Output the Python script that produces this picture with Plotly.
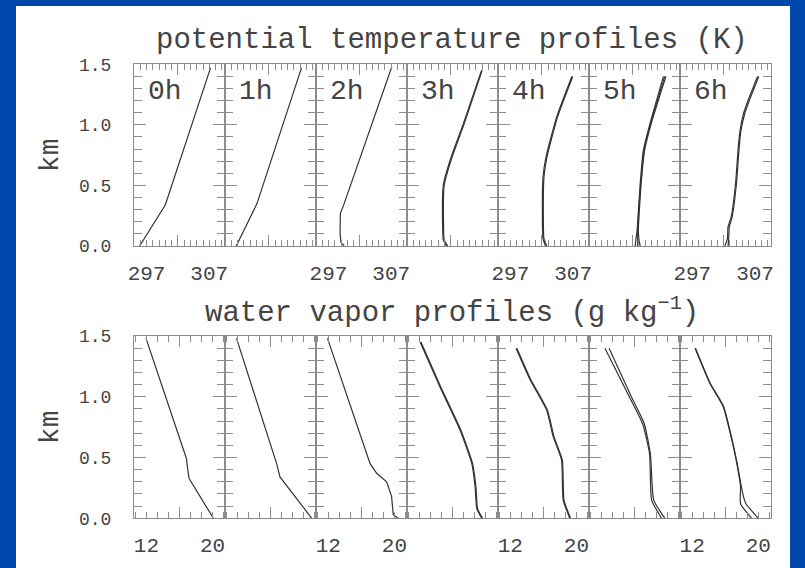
import plotly.graph_objects as go

W, H = 805, 568
BLUE = "#0047ab"
INK = "#333333"
TEXT = "#444444"
FRAME = "#8c8c8c"
FONT = "Liberation Mono"

hours = ["0h", "1h", "2h", "3h", "4h", "5h", "6h"]

# ---- potential temperature profiles (K) vs height (km) ----
theta_z_0h = [0.00, 0.34, 1.47]
theta_0h = [295.9, 300.0, 307.2]

theta_z_1h = [0.00, 0.35, 1.47]
theta_1h = [296.8, 300.1, 307.2]

theta_z_2h = [0.00, 0.03, 0.10, 0.27, 0.35, 1.48]
theta_2h = [299.5, 299.0, 298.85, 298.9, 299.5, 307.1]

theta_z_3h = [0.00, 0.05, 0.15, 0.50, 0.71, 1.01, 1.45]
theta_3h_a = [301.3, 300.8, 300.7, 300.8, 301.9, 304.0, 306.9]
theta_3h_b = [301.5, 300.95, 300.85, 300.95, 302.05, 304.15, 307.0]

theta_z_4h = [0.00, 0.06, 0.30, 0.57, 0.74, 1.07, 1.40]
theta_4h_a = [302.6, 302.2, 302.1, 302.2, 302.7, 304.4, 306.8]
theta_4h_b = [302.8, 302.35, 302.25, 302.35, 302.85, 304.55, 306.95]

theta_z_5h = [0.00, 0.05, 0.13, 0.52, 0.79, 1.01, 1.40]
theta_5h_a = [302.4, 302.5, 302.7, 303.2, 303.7, 304.75, 306.9]
theta_5h_b = [303.2, 303.0, 302.9, 303.35, 303.9, 304.95, 307.3]
theta_5h_c = [302.8, 302.8, 302.8, 303.3, 303.8, 304.85, 307.1]

theta_z_6h = [0.00, 0.06, 0.16, 0.24, 0.52, 0.80, 0.95, 1.10, 1.23, 1.40]
theta_6h_a = [302.2, 302.6, 302.7, 303.2, 303.9, 304.3, 304.6, 305.2, 306.1, 307.4]
theta_6h_b = [302.7, 302.8, 302.9, 303.35, 304.05, 304.45, 304.75, 305.4, 306.3, 307.6]

# ---- water vapor profiles (g/kg) vs height (km) ----
q_z_0h = [0.00, 0.33, 0.40, 0.49, 1.48]
q_0h = [20.1, 17.15, 17.0, 16.85, 11.95]

q_z_1h = [0.00, 0.34, 0.45, 1.48]
q_1h = [21.0, 17.15, 16.75, 11.9]

q_z_2h = [0.00, 0.03, 0.18, 0.30, 0.37, 0.45, 1.48]
q_2h = [20.45, 19.85, 19.65, 19.05, 17.85, 17.05, 11.9]

q_z_3h = [0.00, 0.08, 0.26, 0.45, 0.73, 1.08, 1.45]
q_3h_a = [19.55, 18.95, 18.75, 18.35, 16.9, 14.5, 12.1]
q_3h_b = [19.65, 19.05, 18.85, 18.45, 17.0, 14.6, 12.2]

q_z_4h = [0.00, 0.15, 0.48, 0.67, 0.89, 1.14, 1.40]
q_4h_a = [19.2, 18.4, 18.2, 17.2, 16.4, 14.4, 12.7]
q_4h_b = [19.3, 18.5, 18.3, 17.3, 16.5, 14.5, 12.8]

q_z_5h = [0.00, 0.15, 0.53, 0.78, 1.00, 1.40]
q_5h_a = [19.3, 18.1, 17.85, 17.0, 15.4, 12.45]
q_5h_b = [19.7, 18.35, 17.95, 17.2, 15.65, 12.95]

q_z_6h_a = [0.00, 0.12, 0.26, 0.45, 0.70, 0.92, 1.11, 1.40]
q_6h_a = [19.2, 17.85, 17.85, 17.4, 16.6, 15.75, 14.15, 12.35]
q_z_6h_b = [0.00, 0.12, 0.18, 0.26, 0.45, 0.70, 0.92, 1.11, 1.40]
q_6h_b = [20.0, 18.5, 18.2, 17.95, 17.45, 16.65, 15.8, 14.2, 12.4]

theta_panels = [
    [(theta_0h, theta_z_0h)],
    [(theta_1h, theta_z_1h)],
    [(theta_2h, theta_z_2h)],
    [(theta_3h_a, theta_z_3h), (theta_3h_b, theta_z_3h)],
    [(theta_4h_a, theta_z_4h), (theta_4h_b, theta_z_4h)],
    [(theta_5h_a, theta_z_5h), (theta_5h_b, theta_z_5h), (theta_5h_c, theta_z_5h)],
    [(theta_6h_a, theta_z_6h), (theta_6h_b, theta_z_6h)],
]
q_panels = [
    [(q_0h, q_z_0h)],
    [(q_1h, q_z_1h)],
    [(q_2h, q_z_2h)],
    [(q_3h_a, q_z_3h), (q_3h_b, q_z_3h)],
    [(q_4h_a, q_z_4h), (q_4h_b, q_z_4h)],
    [(q_5h_a, q_z_5h), (q_5h_b, q_z_5h)],
    [(q_6h_a, q_z_6h_a), (q_6h_b, q_z_6h_b)],
]

# axis settings per row
rows = [
    dict(panels=theta_panels, xrange=[295.0, 309.5], major0=302, majordt=10,
         minor0=297, minordt=1.0, labels=[297, 307], top=64.3, bottom=246.0),
    dict(panels=q_panels, xrange=[10.5, 21.5], major0=16, majordt=8,
         minor0=12, minordt=4.0 / 3.0, labels=[12, 20], top=336.0, bottom=518.3),
]

PANEL_LEFT = 134.0
PANEL_W = 90.96
NCOL = 7

fig = go.Figure()
layout = {}


def ref(letter, i):
    return letter if i == 1 else f"{letter}{i}"


def key(prefix, i):
    return prefix if i == 1 else f"{prefix}{i}"


for r, row in enumerate(rows):
    y0 = 1 - row["bottom"] / H
    y1 = 1 - row["top"] / H
    for c in range(NCOL):
        idx = r * NCOL + c + 1
        lab = idx + 2 * NCOL
        x0 = (PANEL_LEFT + c * PANEL_W) / W
        x1 = (PANEL_LEFT + (c + 1) * PANEL_W) / W
        xa, ya, xl = ref("x", idx), ref("y", idx), ref("x", lab)

        for vals, zs in row["panels"][c]:
            fig.add_trace(go.Scatter(
                x=vals, y=zs, xaxis=xa, yaxis=ya, mode="lines",
                line=dict(color=INK, width=1.2,
                          shape="spline" if c >= 3 else "linear", smoothing=0.5),
                hoverinfo="skip", showlegend=False))
        # empty trace so the overlaid label axis gets its own subplot
        fig.add_trace(go.Scatter(x=[], y=[], xaxis=xl, yaxis=ya, mode="lines",
                                 hoverinfo="skip", showlegend=False))

        layout[key("xaxis", idx)] = dict(
            domain=[x0, x1], anchor=ya, range=row["xrange"], automargin=False,
            tickmode="linear", tick0=row["major0"], dtick=row["majordt"],
            ticks="inside", ticklen=11, tickcolor=FRAME, tickwidth=1,
            showticklabels=False, showgrid=False, zeroline=False,
            showline=True, linecolor=FRAME, linewidth=1, mirror="ticks",
            minor=dict(tick0=row["minor0"], dtick=row["minordt"], ticks="inside",
                       ticklen=6, tickcolor=FRAME, tickwidth=1, showgrid=False),
        )
        # labelled ticks sit on an overlaid axis without tick marks
        layout[key("xaxis", lab)] = dict(
            overlaying=xa, anchor=ya, range=row["xrange"], side="bottom",
            automargin=False, tickmode="array", tickvals=row["labels"],
            ticktext=[str(v) for v in row["labels"]],
            showticklabels=(c % 2 == 0), ticks="", showline=False,
            showgrid=False, zeroline=False, ticklabelstandoff=12,
            tickfont=dict(family=FONT, size=21, color=TEXT),
        )
        layout[key("yaxis", idx)] = dict(
            domain=[y0, y1], anchor=xa, range=[0, 1.5], automargin=False,
            tickmode="linear", tick0=0, dtick=0.5, tickformat=".1f",
            ticks="inside", ticklen=12, tickcolor=FRAME, tickwidth=1,
            showticklabels=(c == 0), ticklabelstandoff=18,
            tickfont=dict(family=FONT, size=18, color=TEXT),
            showgrid=False, zeroline=False,
            showline=True, linecolor=FRAME, linewidth=1, mirror="ticks",
            minor=dict(tick0=0, dtick=0.1, ticks="inside", ticklen=8,
                       tickcolor=FRAME, tickwidth=1, showgrid=False),
        )

annotations = []
# hour labels inside the upper panels
for c, h in enumerate(hours):
    annotations.append(dict(
        text=h, xref=ref("x", c + 1) + " domain", yref=ref("y", c + 1) + " domain",
        x=0.13, y=0.85, xanchor="left", yanchor="middle", showarrow=False,
        font=dict(family=FONT, size=28, color=TEXT)))

# row titles
annotations.append(dict(
    text="potential temperature profiles (K)", xref="paper", yref="paper",
    x=(PANEL_LEFT + NCOL * PANEL_W / 2) / W, y=1 - 40 / H,
    xanchor="center", yanchor="middle", showarrow=False,
    font=dict(family=FONT, size=29, color=TEXT)))
annotations.append(dict(
    text="water vapor profiles (g kg<sup>−1</sup>)", xref="paper", yref="paper",
    x=(PANEL_LEFT + NCOL * PANEL_W / 2) / W, y=1 - 311 / H,
    xanchor="center", yanchor="middle", showarrow=False,
    font=dict(family=FONT, size=29, color=TEXT)))

# height axis titles
for row in rows:
    annotations.append(dict(
        text="km", xref="paper", yref="paper",
        x=50 / W, y=1 - (row["top"] + row["bottom"]) / 2 / H,
        xanchor="center", yanchor="middle", textangle=-90, showarrow=False,
        font=dict(family=FONT, size=28, color=TEXT)))

fig.update_layout(
    width=W, height=H,
    margin=dict(l=0, r=0, t=0, b=0, autoexpand=False),
    paper_bgcolor=BLUE, plot_bgcolor="rgba(0,0,0,0)",
    showlegend=False,
    annotations=annotations,
    shapes=[dict(type="rect", xref="paper", yref="paper",
                 x0=16 / W, x1=790 / W, y0=0, y1=1 - 6 / H,
                 fillcolor="white", line=dict(width=0), layer="below")],
    **layout,
)

fig.write_html("out.html")
